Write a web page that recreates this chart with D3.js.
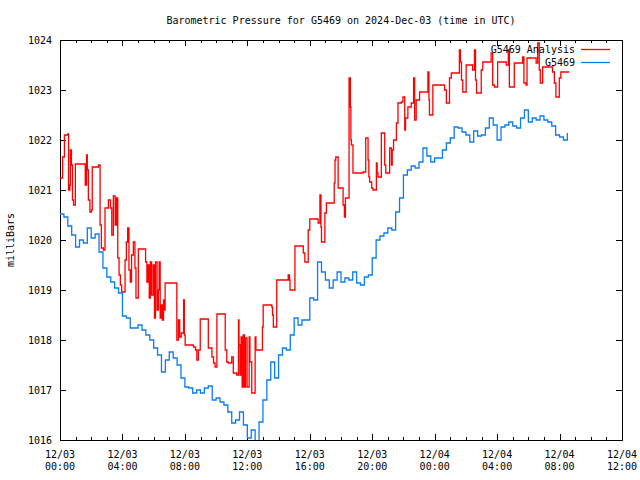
<!DOCTYPE html>
<html><head><meta charset="utf-8">
<script src="https://cdn.jsdelivr.net/npm/d3@7"></script>
<style>
body{margin:0;background:#fff}
svg{display:block}
text{font-family:"DejaVu Sans Mono","Liberation Mono",monospace;font-size:10px;fill:#000}
</style>
</head><body><svg id="c" width="640" height="480"></svg>
<script>
const title = "Barometric Pressure for G5469 on 2024-Dec-03 (time in UTC)";
const yLabel = "milliBars";
const seriesNames = ["G5469 Analysis", "G5469"];
const seriesColors = ["#ff0000", "#0a7cf5"];
const yTicks = [1016, 1017, 1018, 1019, 1020, 1021, 1022, 1023, 1024];
const xTickMinutes = [0, 240, 480, 720, 960, 1200, 1440, 1680, 1920, 2160];
const xTickDates = ["12/03","12/03","12/03","12/03","12/03","12/03","12/04","12/04","12/04","12/04"];
const xTickTimes = ["00:00","04:00","08:00","12:00","16:00","20:00","00:00","04:00","08:00","12:00"];

// G5469 station observations, every 15 minutes from 12/03 00:00
const obsStepMinutes = 15;
const obsValues = [
1020.52,1020.46,1020.28,1020.10,1019.86,1020.00,1019.94,1020.24,1020.04,1020.12,
1019.76,1019.44,1019.26,1019.16,1019.04,1018.94,1018.48,1018.44,1018.24,1018.24,
1018.30,1018.20,1018.10,1018.00,1017.84,1017.70,1017.36,1017.60,1017.76,1017.64,
1017.50,1017.24,1017.06,1017.04,1016.94,1017.00,1016.94,1017.04,1017.08,1016.80,
1016.84,1016.76,1016.70,1016.56,1016.34,1016.40,1016.56,1016.30,1016.04,1016.20,
1015.90,1016.36,1016.80,1017.20,1017.56,1017.24,1017.70,1017.84,1017.80,1018.10,
1018.44,1018.30,1018.40,1018.40,1018.84,1018.80,1019.56,1019.36,1019.20,1019.04,
1019.20,1019.36,1019.16,1019.24,1019.20,1019.36,1019.14,1019.10,1019.26,1019.30,
1019.64,1020.00,1020.08,1020.14,1020.24,1020.20,1020.56,1020.84,1021.30,1021.40,
1021.48,1021.44,1021.56,1021.84,1021.68,1021.56,1021.64,1021.64,1021.80,1021.94,
1022.04,1022.26,1022.24,1022.16,1022.10,1021.96,1022.18,1022.08,1022.10,1022.24,
1022.44,1022.30,1022.00,1022.26,1022.30,1022.36,1022.28,1022.24,1022.44,1022.60,
1022.36,1022.44,1022.40,1022.48,1022.40,1022.36,1022.28,1022.10,1022.06,1022.00,
1022.14];

// G5469 Analysis: minutes since 12/03 00:00 and value (step changes)
const anaMinutes = [
0,10,17,29,33,38,40,44,48,52,
59,97,102,105,109,115,121,124,148,154,
159,167,173,186,194,199,205,212,217,222,
227,232,237,250,255,260,265,270,275,282,
288,292,301,329,334,339,343,347,352,358,
363,367,373,378,381,385,389,393,398,401,
404,449,455,460,466,475,478,481,513,521,
526,532,539,570,584,590,596,603,635,641,
647,660,666,679,686,688,692,696,700,704,
709,713,719,727,730,737,750,753,778,781,
814,817,820,833,877,882,884,903,935,941,
954,960,992,999,1003,1005,1018,1024,1054,1057,
1060,1069,1088,1093,1097,1111,1116,1118,1120,1126,
1165,1175,1184,1187,1190,1198,1203,1216,1219,1222,
1235,1248,1252,1267,1274,1277,1282,1293,1299,1312,
1318,1325,1328,1337,1350,1359,1363,1369,1382,1414,
1418,1420,1433,1478,1485,1497,1504,1535,1539,1543,
1548,1561,1586,1593,1597,1601,1619,1625,1657,1663,
1670,1682,1715,1723,1727,1746,1778,1783,1791,1795,
1830,1836,1842,1846,1855,1893,1900,1906,1919,1925,
1957];
const anaValues = [
1021.24,1021.66,1022.10,1022.12,1021.00,1021.10,1021.80,1021.50,1020.80,1020.70,
1021.52,1021.10,1021.70,1021.40,1020.80,1020.56,1020.60,1021.46,1021.50,1020.30,
1019.84,1019.80,1020.64,1020.80,1020.64,1020.10,1020.88,1020.30,1020.84,1019.64,
1019.30,1019.10,1018.96,1019.60,1019.96,1020.24,1019.40,1019.16,1019.70,1019.96,
1019.44,1018.84,1019.82,1019.56,1019.16,1019.50,1018.84,1019.56,1018.90,1019.50,
1018.44,1019.56,1018.60,1019.00,1019.56,1018.44,1018.70,1018.40,1018.80,1018.60,
1019.14,1018.00,1018.40,1018.06,1018.14,1018.80,1018.10,1017.90,1017.86,1017.80,
1017.60,1017.80,1018.42,1017.84,1017.66,1017.54,1017.46,1018.52,1017.80,1017.56,
1017.54,1017.66,1017.34,1017.30,1018.40,1017.90,1017.30,1018.06,1017.06,1018.10,
1017.06,1018.04,1017.06,1018.06,1017.56,1016.94,1018.06,1017.80,1018.26,1018.70,
1018.66,1018.50,1018.26,1019.20,1019.30,1019.20,1019.00,1019.88,1019.74,1019.56,
1020.20,1020.42,1020.34,1020.90,1020.26,1019.96,1020.54,1020.74,1021.14,1021.60,
1021.66,1021.04,1020.70,1020.46,1020.84,1023.24,1022.66,1022.00,1021.90,1021.34,
1021.36,1022.04,1021.60,1021.26,1021.16,1021.04,1021.00,1021.54,1021.34,1021.26,
1022.14,1021.50,1021.34,1021.84,1021.50,1021.80,1022.00,1022.34,1022.74,1022.76,
1022.86,1022.20,1022.44,1022.66,1022.74,1023.24,1022.40,1022.80,1022.96,1023.36,
1022.80,1022.50,1023.10,1023.00,1022.74,1023.24,1023.34,1023.80,1023.56,1023.20,
1022.96,1023.50,1023.40,1023.80,1023.20,1022.94,1023.40,1023.56,1023.74,1023.10,
1023.06,1023.56,1023.50,1023.80,1023.06,1023.54,1023.66,1023.14,1023.10,1023.64,
1023.54,1023.94,1023.40,1023.14,1023.46,1023.36,1023.14,1022.86,1023.24,1023.36,
1023.36];

const svg = d3.select("#c");
const L = 60, R = 622, T = 40, B = 440;
const x = d3.scaleLinear().domain([0, 2160]).range([L, R]);
const y = d3.scaleLinear().domain([1016, 1024]).range([B, T]);

svg.append("defs").append("clipPath").attr("id", "clip")
  .append("rect").attr("x", L).attr("y", T).attr("width", R - L).attr("height", B - T);

function axisG(axis, tx, ty) {
  const g = svg.append("g").attr("transform", `translate(${tx},${ty})`)
    .attr("shape-rendering", "crispEdges").call(axis);
  g.select(".domain").remove();
  g.selectAll("line").attr("stroke", "#000");
  return g;
}
const minorX = d3.range(0, 2161, 60);
axisG(d3.axisBottom(x).tickValues(minorX).tickSize(-3).tickFormat(""), 0, B);
axisG(d3.axisBottom(x).tickValues(xTickMinutes).tickSize(-6).tickFormat(""), 0, B);
axisG(d3.axisTop(x).tickValues(minorX).tickSize(-3).tickFormat(""), 0, T);
axisG(d3.axisTop(x).tickValues(xTickMinutes).tickSize(-6).tickFormat(""), 0, T);
const gl = axisG(d3.axisLeft(y).tickValues(yTicks).tickSize(-6).tickPadding(8).tickFormat(d3.format("d")), L, 0);
gl.selectAll("text").attr("font-family", null).attr("font-size", null).attr("fill", "#000");
axisG(d3.axisRight(y).tickValues(yTicks).tickSize(-6).tickFormat(""), R, 0);

svg.append("rect").attr("x", L).attr("y", T).attr("width", R - L).attr("height", B - T)
  .attr("fill", "none").attr("stroke", "#000").attr("shape-rendering", "crispEdges");

const xl = svg.append("g");
xl.selectAll("text.d").data(xTickMinutes).join("text").attr("class", "d")
  .attr("x", d => x(d)).attr("y", 454).attr("dy", "0.35em").attr("text-anchor", "middle")
  .text((d, i) => xTickDates[i]);
xl.selectAll("text.t").data(xTickMinutes).join("text").attr("class", "t")
  .attr("x", d => x(d)).attr("y", 466).attr("dy", "0.35em").attr("text-anchor", "middle")
  .text((d, i) => xTickTimes[i]);

svg.append("text").attr("x", 341).attr("y", 20).attr("dy", "0.35em")
  .attr("text-anchor", "middle").text(title);
svg.append("text").attr("transform", "translate(10,240) rotate(-90)")
  .attr("dy", "0.35em").attr("text-anchor", "middle").text(yLabel);

const line = d3.line().x(d => x(d[0])).y(d => y(d[1])).curve(d3.curveStepAfter);
const anaData = anaMinutes.map((t, i) => [t, anaValues[i]]);
const obsData = obsValues.map((v, i) => [i * obsStepMinutes, v]);

const plot = svg.append("g").attr("clip-path", "url(#clip)");
plot.append("path").datum(anaData).attr("d", line)
  .attr("fill", "none").attr("stroke", seriesColors[0]).attr("stroke-width", 1.3);
plot.append("path").datum(obsData).attr("d", line)
  .attr("fill", "none").attr("stroke", seriesColors[1]).attr("stroke-width", 1.3);

const leg = svg.append("g");
seriesNames.forEach((n, i) => {
  const ly = 49 + i * 13;
  leg.append("text").attr("x", 575).attr("y", ly).attr("dy", "0.35em")
    .attr("text-anchor", "end").text(n);
  leg.append("line").attr("x1", 581).attr("x2", 610).attr("y1", ly + 0.5).attr("y2", ly + 0.5)
    .attr("stroke", seriesColors[i]).attr("stroke-width", 1.3);
});
</script>
</body></html>
